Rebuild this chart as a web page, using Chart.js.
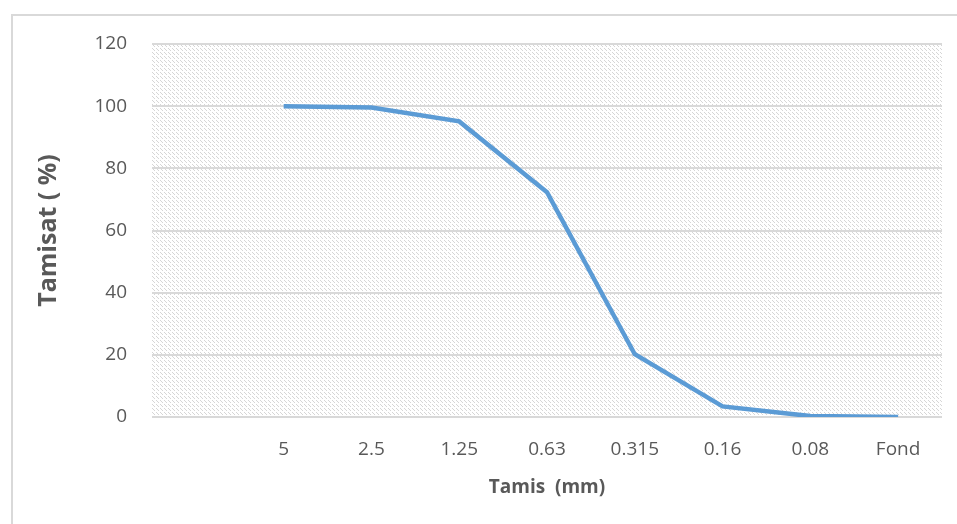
<!DOCTYPE html>
<html>
<head>
<meta charset="utf-8">
<script src="https://cdn.jsdelivr.net/npm/chart.js@4"></script>
<style>
  html, body { margin: 0; padding: 0; background: #fff; }
  #wrap { width: 957px; height: 524px; position: relative; }
</style>
</head>
<body>
<div id="wrap"><canvas id="granuloChart" width="957" height="524"></canvas></div>
<script>
// tamis (mm) - la premiere categorie est vide dans le graphique d'origine
const tamis = ['', '5', '2.5', '1.25', '0.63', '0.315', '0.16', '0.08', 'Fond'];
const tamisat = [null, 100, 99.6, 95.1, 72.3, 20.2, 3.4, 0.3, 0];
const yTicks = [0, 20, 40, 60, 80, 100, 120];

// motif hachuré du fond de la zone de tracé
function makePattern(ctx) {
  const c = document.createElement('canvas');
  c.width = 8; c.height = 8;
  const p = c.getContext('2d');
  p.fillStyle = '#ffffff';
  p.fillRect(0, 0, 8, 8);
  p.fillStyle = '#d6d6d6';
  for (let i = 0; i < 8; i++) {
    if (i % 4 === 3) continue;
    p.fillRect(i, i, 1, 1);
    p.fillRect((i + 4) % 8, i, 1, 1);
  }
  return ctx.createPattern(c, 'repeat');
}

const bgPlugin = {
  id: 'bgPlugin',
  beforeDraw(chart) {
    const { ctx, chartArea: a } = chart;
    ctx.save();
    // cadre extérieur
    ctx.strokeStyle = '#d9d9d9';
    ctx.lineWidth = 2;
    ctx.strokeRect(12, 15, chart.width, chart.height);
    ctx.fillStyle = makePattern(ctx);
    ctx.fillRect(a.left, a.top, a.right - a.left, a.bottom - a.top);
    ctx.restore();
  }
};

const fontFam = '"Open Sans", Lato, sans-serif';

const ctx = document.getElementById('granuloChart');
new Chart(ctx, {
  type: 'line',
  data: {
    labels: tamis,
    datasets: [{
      label: 'Tamisat',
      data: tamisat,
      borderColor: '#5b9bd5',
      backgroundColor: '#5b9bd5',
      borderWidth: 4.5,
      pointRadius: 0,
      tension: 0,
      fill: false
    }]
  },
  options: {
    responsive: false,
    animation: false,
    layout: { padding: { top: 44, right: 15, left: 0, bottom: 0 } },
    plugins: {
      legend: { display: false },
      tooltip: { enabled: false }
    },
    scales: {
      x: {
        offset: true,
        grid: { display: false, drawTicks: false },
        border: { display: false },
        ticks: {
          autoSkip: false,
          maxRotation: 0,
          padding: 21,
          color: '#595959',
          font: { family: fontFam, size: 19 }
        },
        title: {
          display: true,
          text: 'Tamis  (mm)',
          color: '#595959',
          padding: { bottom: 25, top: 0 },
          font: { family: fontFam, size: 19, weight: 'bold' }
        },
        afterFit(scale) { scale.height = 107; }
      },
      y: {
        min: 0,
        max: 120,
        afterBuildTicks(scale) { scale.ticks = yTicks.map(v => ({ value: v })); },
        grid: { color: '#d9d9d9', lineWidth: 2, drawTicks: false },
        border: { display: false },
        ticks: {
          padding: 25,
          color: '#595959',
          font: { family: fontFam, size: 19 }
        },
        title: {
          display: true,
          text: 'Tamisat ( %)',
          color: '#595959',
          padding: { top: 34, bottom: 0 },
          font: { family: fontFam, size: 25, weight: 'bold' }
        },
        afterFit(scale) { scale.width = 152; }
      }
    }
  },
  plugins: [bgPlugin]
});
</script>
</body>
</html>
